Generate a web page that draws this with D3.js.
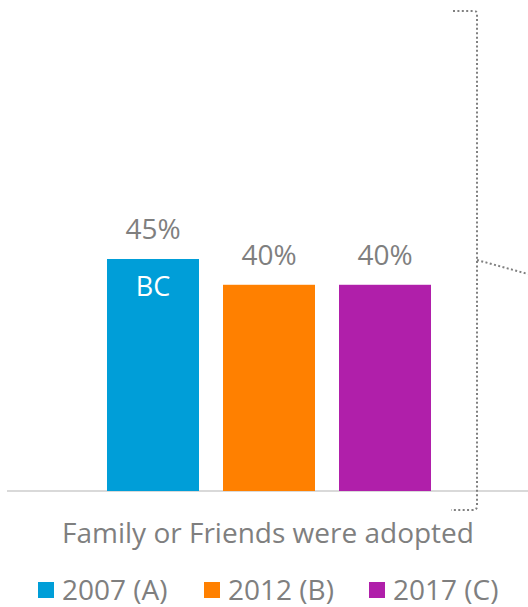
<!DOCTYPE html>
<html>
<head>
<meta charset="utf-8">
<script src="https://cdn.jsdelivr.net/npm/d3@7"></script>
<style>
  body { margin: 0; background: #fff; }
  svg { display: block; font-family: "Open Sans", sans-serif; }
</style>
</head>
<body>
<svg id="chart" width="528" height="607"></svg>
<script>
// data
const category = "Family or Friends were adopted";
const seriesNames = ["2007 (A)", "2012 (B)", "2017 (C)"];
const seriesKeys = ["A", "B", "C"];
const values = [45, 40, 40];
const sigLabels = ["BC", "", ""];
const colors = ["#009ED8", "#FF8000", "#B01FAA"];

var svg = d3.select("#chart"),
   baseY = 491;

const xScale = d3.scaleBand()
   .domain(seriesKeys)
   .range([95, 443])
   .paddingInner(0.2069)
   .paddingOuter(0.1034);

const yScale = d3.scaleLinear()
   .domain([0, 45])
   .range([baseY, 259]);

// axis line
svg.append("line")
   .attr("x1", 7).attr("x2", 528)
   .attr("y1", baseY).attr("y2", baseY)
   .attr("stroke", "#d9d9d9")
   .attr("stroke-width", 2);

// bars
svg.append("g")
   .selectAll("rect")
   .data(values)
   .join("rect")
   .attr("x", (d, i) => xScale(seriesKeys[i]))
   .attr("y", d => yScale(d))
   .attr("width", xScale.bandwidth())
   .attr("height", d => baseY - yScale(d))
   .attr("fill", (d, i) => colors[i]);

// value labels
svg.append("g")
   .selectAll("text")
   .data(values)
   .join("text")
   .attr("x", (d, i) => xScale(seriesKeys[i]) + xScale.bandwidth() / 2)
   .attr("y", d => yScale(d) - 20)
   .attr("text-anchor", "middle")
   .attr("font-size", 28)
   .attr("fill", "#7f7f7f")
   .text(d => d + "%");

// significance labels inside bars
svg.append("g")
   .selectAll("text")
   .data(values)
   .join("text")
   .attr("x", (d, i) => xScale(seriesKeys[i]) + xScale.bandwidth() / 2)
   .attr("y", d => yScale(d) + 37)
   .attr("text-anchor", "middle")
   .attr("font-size", 27)
   .attr("fill", "#fff")
   .text((d, i) => sigLabels[i]);

// category label
svg.append("text")
   .attr("x", 268)
   .attr("y", 543)
   .attr("text-anchor", "middle")
   .attr("font-size", 28)
   .attr("fill", "#7f7f7f")
   .text(category);

// dotted bracket
svg.append("path")
   .attr("d", "M453,11 L474,11 Q477,11 477,14 L477,506 Q477,510 473,510 L451,510 M477,260 L528,274")
   .attr("fill", "none")
   .attr("stroke", "#808080")
   .attr("stroke-width", 2)
   .attr("stroke-dasharray", "2,2.4");

// legend
const legendX = [38, 204, 369];
const legend = svg.append("g")
   .selectAll("g")
   .data(seriesNames)
   .join("g")
   .attr("transform", (d, i) => `translate(${legendX[i]},582)`);

legend.append("rect")
   .attr("width", 16).attr("height", 16)
   .attr("fill", (d, i) => colors[i]);

legend.append("text")
   .attr("x", 24)
   .attr("y", 18)
   .attr("font-size", 28)
   .attr("fill", "#7f7f7f")
   .text(d => d);
</script>
</body>
</html>
